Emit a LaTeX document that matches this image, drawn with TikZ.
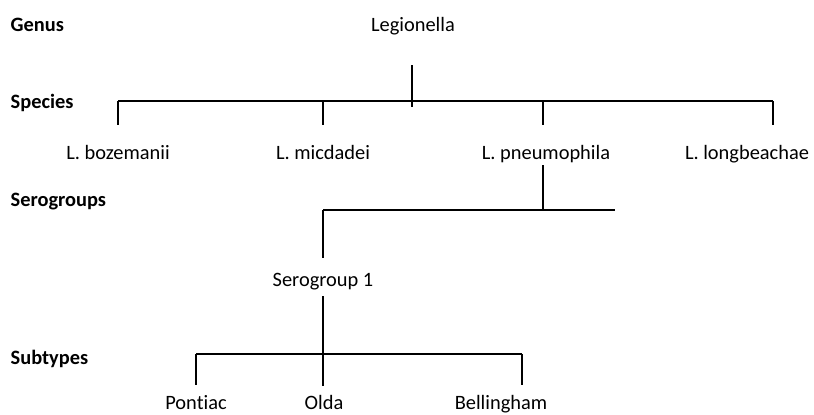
\documentclass[tikz,border=0pt]{standalone}
\usepackage{fontspec}
\setmainfont[Ligatures=NoCommon]{Carlito}
\usetikzlibrary{positioning}
\tikzset{>=latex}

\begin{document}
\begin{tikzpicture}[x=0.5pt, y=-0.5pt, line width=0.65pt, font=\fontsize{10.2}{12}\selectfont,
		level/.style={anchor=base west, inner sep=0pt, font=\fontsize{10.2}{12}\selectfont\bfseries},
		taxon/.style={anchor=base}]
		\useasboundingbox (0,0) rectangle (814,414);
		
		% level names on the left
		\node[level] (genus) at (10,31) {Genus};
		\node[level] (species) at (10,108) {Species};
		\node[level] (serogroups) at (10,206) {Serogroups};
		\node[level] (subtypes) at (10,364) {Subtypes};
		
		% tree
		\node[taxon] (legionella) at (413,31) {Legionella};
		\node[taxon] (bozemanii) at (118,159) {L. bozemanii};
		\node[taxon] (micdadei) at (323,159) {L. micdadei};
		\node[taxon] (pneumophila) at (546,159) {L. pneumophila};
		\node[taxon] (longbeachae) at (747,159) {L. longbeachae};
		\node[taxon] (sero1) at (323,286) {Serogroup 1};
		\node[taxon] (pontiac) at (196,409) {Pontiac};
		\node[taxon] (olda) at (324,409) {Olda};
		\node[taxon] (bellingham) at (501,409) {Bellingham};
		
		\coordinate (legtop) at (412,65);
		\coordinate (legbot) at (412,107);
		\coordinate (sp1) at (118,101);
		\coordinate (sp2) at (323,101);
		\coordinate (sp3) at (543,101);
		\coordinate (sp4) at (773,101);
		\coordinate (pntop) at (543,165);
		\coordinate (sgmid) at (543,210);
		\coordinate (sgl) at (323,210);
		\coordinate (sgr) at (615,210);
		\coordinate (s1top) at (323,296);
		\coordinate (s1bot) at (323,386);
		\coordinate (stl) at (196,354);
		\coordinate (str) at (522,354);
		
		\draw (legtop) -- (legbot);
		\draw (sp1) -- (sp4);
		\draw (sp1) -- +(0,24);
		\draw (sp2) -- +(0,24);
		\draw (sp3) -- +(0,24);
		\draw (sp4) -- +(0,24);
		
		\draw (pntop) -- (sgmid);
		\draw (sgl) -- (sgr);
		\draw (sgl) -- +(0,48);
		
		\draw (s1top) -- (s1bot);
		\draw (stl) -- (str);
		\draw (stl) -- +(0,31);
		\draw (str) -- +(0,31);
	\end{tikzpicture}
\end{document}
